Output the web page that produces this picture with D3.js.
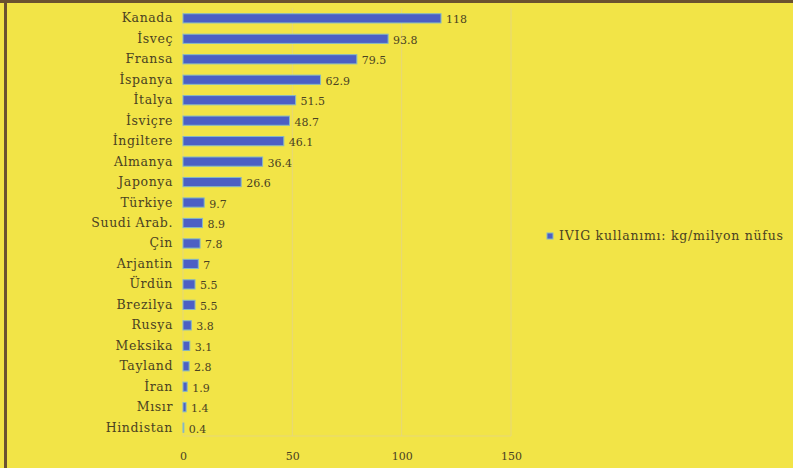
<!DOCTYPE html>
<html>
<head>
<meta charset="utf-8">
<script src="https://cdn.jsdelivr.net/npm/d3@7"></script>
<style>
  body { margin: 0; background: #f2e447; }
  svg text { font-family: "DejaVu Serif", "Liberation Serif", serif; fill: #4a4222; }
</style>
</head>
<body>
<svg id="chart" width="793" height="468"></svg>
<script>
// countries, top to bottom
var countries = ["Kanada", "İsveç", "Fransa", "İspanya", "İtalya", "İsviçre", "İngiltere",
  "Almanya", "Japonya", "Türkiye", "Suudi Arab.", "Çin", "Arjantin", "Ürdün", "Brezilya",
  "Rusya", "Meksika", "Tayland", "İran", "Mısır", "Hindistan"];

// IVIG use, kg per million people
var usage = [118, 93.8, 79.5, 62.9, 51.5, 48.7, 46.1, 36.4, 26.6, 9.7, 8.9, 7.8, 7,
  5.5, 5.5, 3.8, 3.1, 2.8, 1.9, 1.4, 0.4];

var ticks = [0, 50, 100, 150];
var seriesName = "IVIG kullanımı: kg/milyon nüfus";

var svg = d3.select("#chart");

// frame: brown line on top and left
svg.append("rect").attr("x", 0).attr("y", 0).attr("width", 793).attr("height", 468)
  .attr("fill", "#f2e447");
svg.append("rect").attr("x", 0).attr("y", 0).attr("width", 793).attr("height", 3)
  .attr("fill", "#6b5230");
svg.append("rect").attr("x", 4).attr("y", 0).attr("width", 3).attr("height", 468)
  .attr("fill", "#6b5230");

var xScale = d3.scaleLinear().domain([0, 150]).range([183, 511]);
var yScale = d3.scaleBand().domain(countries).range([8, 438]).paddingInner(0.55).paddingOuter(0.28);

// grid lines
svg.append("g").selectAll("line")
  .data(ticks)
  .join("line")
    .attr("x1", d => xScale(d)).attr("x2", d => xScale(d))
    .attr("y1", 8).attr("y2", 436)
    .attr("stroke", "#e6d77a").attr("stroke-width", 1);
svg.append("line")
  .attr("x1", xScale(0)).attr("x2", xScale(150))
  .attr("y1", 436).attr("y2", 436)
  .attr("stroke", "#e6d77a");

// x-axis labels only
var xAxis = d3.axisBottom(xScale).tickValues(ticks).tickSize(0).tickPadding(0);
var gx = svg.append("g").attr("transform", "translate(0,452)").call(xAxis);
gx.select(".domain").remove();
gx.selectAll("text").style("font-size", "11px").attr("fill", "#4a4222");

// y-axis labels only
var yAxis = d3.axisLeft(yScale).tickSize(0).tickPadding(0);
var gy = svg.append("g").attr("transform", "translate(173,0)").call(yAxis);
gy.select(".domain").remove();
gy.selectAll("text").style("font-size", "12.5px").style("letter-spacing", "0.6px")
  .attr("fill", "#4a4222");

// bars
var data = countries.map((c, i) => ({ country: c, value: usage[i] }));
svg.append("g").selectAll("rect")
  .data(data)
  .join("rect")
    .attr("x", xScale(0))
    .attr("y", d => yScale(d.country))
    .attr("width", d => xScale(d.value) - xScale(0))
    .attr("height", yScale.bandwidth())
    .attr("fill", "#4c5fc4")
    .attr("stroke", "#86b8c4")
    .attr("stroke-width", 1);

// value labels
svg.append("g").selectAll("text")
  .data(data)
  .join("text")
    .attr("x", d => xScale(d.value) + 5)
    .attr("y", d => yScale(d.country) + yScale.bandwidth() / 2 + 5)
    .style("font-size", "11px")
    .text(d => d.value);

// legend
var legend = svg.append("g").attr("transform", "translate(547,233)");
legend.append("rect").attr("width", 6).attr("height", 6)
  .attr("fill", "#4c5fc4").attr("stroke", "#86b8c4");
legend.append("text").attr("x", 12).attr("y", 7)
  .style("font-size", "12.5px").style("letter-spacing", "0.75px").text(seriesName);
</script>
</body>
</html>
